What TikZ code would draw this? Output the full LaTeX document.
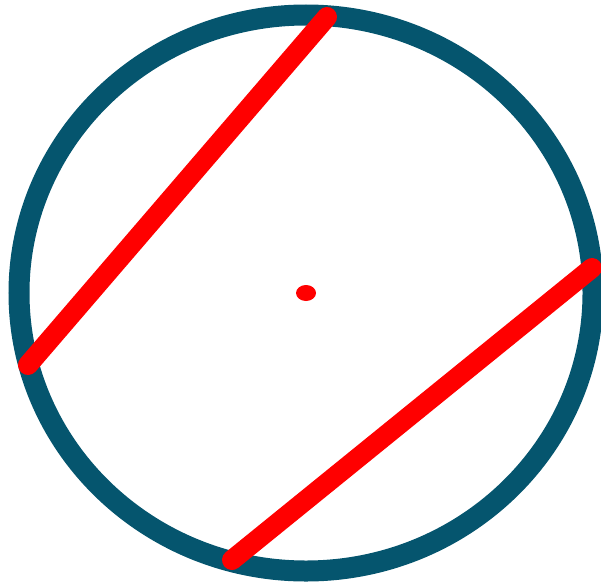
\documentclass[tikz,border=0pt]{standalone}
\definecolor{ringteal}{RGB}{5,85,110}
\definecolor{chordred}{RGB}{255,0,0}
\tikzset{
  ring/.style={draw=ringteal, line width=21pt},
  chord/.style={draw=chordred, line width=20pt, line cap=round},
}
\begin{document}
\begin{tikzpicture}[x=1pt,y=-1pt]
\useasboundingbox (0,0) rectangle (601,586);
\coordinate (O) at (306,293);
\draw[ring] (O) ellipse [x radius=287, y radius=278];
\coordinate (A1) at (28,365);
\coordinate (A2) at (327,17);
\coordinate (B1) at (232,560);
\coordinate (B2) at (592,268);
\draw[chord] (A1) -- (A2);
\draw[chord] (B1) -- (B2);
\fill[chordred] (O) ellipse [x radius=10, y radius=8];
\end{tikzpicture}
\end{document}
